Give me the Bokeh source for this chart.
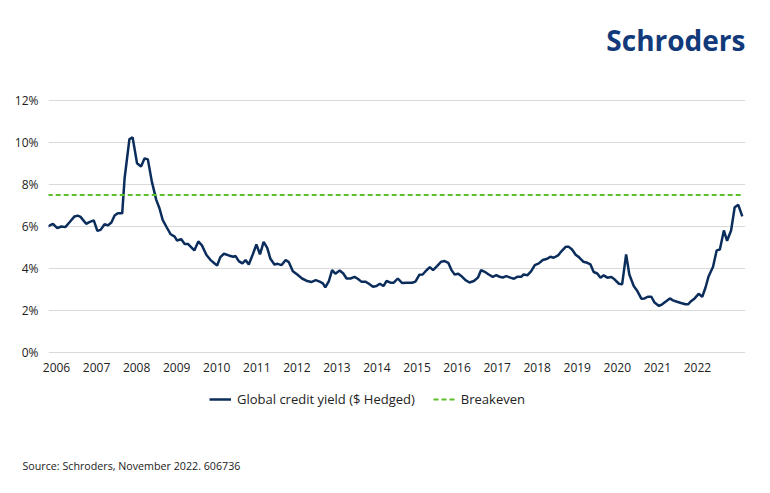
from bokeh.plotting import figure
from bokeh.layouts import column
from bokeh.models import FixedTicker, Legend, LegendItem, Label, Title, Range1d
from bokeh.embed import file_html
from bokeh.resources import INLINE

# ---- data (decimal year, yield %) ----
dates = [2005.78, 2005.91, 2006.02, 2006.12, 2006.22, 2006.32, 2006.45, 2006.53, 2006.60, 2006.74,
         2006.82, 2006.93, 2007.02, 2007.10, 2007.20, 2007.28, 2007.37, 2007.45, 2007.53, 2007.64,
         2007.70, 2007.82, 2007.90, 2008.01, 2008.11, 2008.20, 2008.28, 2008.38, 2008.49, 2008.57,
         2008.65, 2008.74, 2008.85, 2008.95, 2009.01, 2009.11, 2009.20, 2009.28, 2009.36, 2009.44,
         2009.54, 2009.63, 2009.74, 2009.84, 2009.94, 2010.01, 2010.09, 2010.18, 2010.30, 2010.41,
         2010.47, 2010.55, 2010.64, 2010.72, 2010.80, 2010.90, 2010.99, 2011.08, 2011.17, 2011.26,
         2011.34, 2011.44, 2011.52, 2011.62, 2011.72, 2011.80, 2011.90, 2012.01, 2012.13, 2012.26,
         2012.36, 2012.47, 2012.57, 2012.65, 2012.71, 2012.80, 2012.88, 2012.96, 2013.07, 2013.16,
         2013.24, 2013.34, 2013.44, 2013.52, 2013.61, 2013.71, 2013.80, 2013.90, 2013.99, 2014.07,
         2014.16, 2014.24, 2014.34, 2014.42, 2014.52, 2014.63, 2014.75, 2014.88, 2014.96, 2015.06,
         2015.14, 2015.23, 2015.32, 2015.40, 2015.50, 2015.60, 2015.69, 2015.78, 2015.86, 2015.94,
         2016.03, 2016.11, 2016.21, 2016.31, 2016.42, 2016.52, 2016.60, 2016.69, 2016.79, 2016.89,
         2016.98, 2017.06, 2017.14, 2017.23, 2017.33, 2017.42, 2017.50, 2017.60, 2017.66, 2017.76,
         2017.85, 2017.94, 2018.04, 2018.14, 2018.25, 2018.33, 2018.41, 2018.52, 2018.61, 2018.71,
         2018.79, 2018.87, 2018.96, 2019.04, 2019.15, 2019.25, 2019.33, 2019.41, 2019.50, 2019.58,
         2019.66, 2019.75, 2019.85, 2019.93, 2020.04, 2020.12, 2020.22, 2020.30, 2020.41, 2020.50,
         2020.60, 2020.68, 2020.76, 2020.85, 2020.93, 2021.04, 2021.12, 2021.22, 2021.31, 2021.39,
         2021.49, 2021.59, 2021.70, 2021.77, 2021.84, 2021.93, 2022.03, 2022.12, 2022.20, 2022.28,
         2022.39, 2022.48, 2022.56, 2022.66, 2022.74, 2022.84, 2022.93, 2023.02, 2023.12]

credit_yield = [6.00, 6.13, 5.92, 6.00, 5.97, 6.19, 6.48, 6.52, 6.46, 6.13,
                6.21, 6.29, 5.79, 5.84, 6.11, 6.05, 6.19, 6.52, 6.63, 6.63,
                8.30, 10.17, 10.25, 9.02, 8.86, 9.25, 9.20, 8.14, 7.27, 6.87,
                6.32, 6.00, 5.63, 5.52, 5.33, 5.40, 5.17, 5.17, 5.02, 4.86,
                5.29, 5.10, 4.65, 4.41, 4.25, 4.14, 4.54, 4.70, 4.62, 4.56,
                4.59, 4.35, 4.24, 4.40, 4.19, 4.67, 5.14, 4.67, 5.27, 4.98,
                4.46, 4.19, 4.22, 4.16, 4.40, 4.30, 3.87, 3.71, 3.52, 3.40,
                3.35, 3.44, 3.37, 3.29, 3.10, 3.40, 3.92, 3.75, 3.90, 3.76,
                3.52, 3.52, 3.60, 3.51, 3.37, 3.37, 3.27, 3.13, 3.16, 3.27,
                3.16, 3.40, 3.32, 3.32, 3.52, 3.30, 3.32, 3.32, 3.37, 3.70,
                3.71, 3.90, 4.06, 3.92, 4.11, 4.32, 4.35, 4.27, 3.92, 3.71,
                3.75, 3.63, 3.44, 3.33, 3.40, 3.56, 3.92, 3.84, 3.71, 3.60,
                3.68, 3.60, 3.57, 3.63, 3.56, 3.51, 3.60, 3.60, 3.71, 3.68,
                3.87, 4.16, 4.24, 4.40, 4.46, 4.56, 4.51, 4.62, 4.83, 5.03,
                5.03, 4.90, 4.65, 4.54, 4.32, 4.27, 4.19, 3.83, 3.76, 3.56,
                3.67, 3.56, 3.59, 3.48, 3.27, 3.24, 4.67, 3.71, 3.16, 2.92,
                2.56, 2.57, 2.65, 2.65, 2.37, 2.21, 2.29, 2.44, 2.57, 2.48,
                2.41, 2.35, 2.29, 2.29, 2.44, 2.57, 2.79, 2.65, 3.08, 3.63,
                4.08, 4.86, 4.90, 5.81, 5.32, 5.81, 6.92, 7.03, 6.48]

breakeven = 7.5
year_ticks = list(range(2006, 2023))
pct_ticks = [0, 2, 4, 6, 8, 10, 12]
pct_labels = ["0%", "2%", "4%", "6%", "8%", "10%", "12%"]
series_names = ["Global credit yield ($ Hedged)", "Breakeven"]

FONT = "Open Sans"
NAVY = "#0b2d5c"
GREEN = "#5cbf2a"
TXT = "#222222"
FW = 697          # frame width shared by all three figures
LB, RB = 48, 17   # left / right borders


def blank(frame_h, bottom=0):
    f = figure(frame_width=FW, frame_height=frame_h, x_range=Range1d(0, 1), y_range=Range1d(0, 1),
               x_axis_location=None, y_axis_location=None,
               min_border_left=LB, min_border_right=RB, min_border_top=0,
               min_border_bottom=bottom, output_backend="svg", toolbar_location=None)
    f.outline_line_color = None
    f.grid.grid_line_color = None
    f.border_fill_color = "white"
    return f


# ---- header with logo ----
head = blank(86)
head.add_layout(Label(x=FW, y=47, x_units="screen", y_units="screen", text="Schroders",
                      text_font=FONT, text_font_size="28px", text_font_style="bold",
                      text_color="#123a7a", text_align="right", text_baseline="middle"))

# ---- main chart ----
p = figure(frame_width=FW, frame_height=260,
           min_border_left=LB, min_border_right=RB, min_border_top=10, min_border_bottom=24,
           x_range=Range1d(2005.80, 2023.20), y_range=Range1d(-0.2, 12.2),
           output_backend="svg", toolbar_location=None)
p.outline_line_color = None
p.border_fill_color = "white"

p.line(dates, credit_yield, line_color=NAVY, line_width=2.5)
p.line([dates[0], dates[-1]], [breakeven, breakeven], line_color=GREEN,
       line_width=2, line_dash="5 3")

p.xaxis.ticker = FixedTicker(ticks=year_ticks)
p.yaxis.ticker = FixedTicker(ticks=pct_ticks)
p.yaxis.major_label_overrides = {t: l for t, l in zip(pct_ticks, pct_labels)}
for ax in (p.xaxis[0], p.yaxis[0]):
    ax.axis_line_color = None
    ax.major_tick_line_color = None
    ax.minor_tick_line_color = None
    ax.major_label_text_font = FONT
    ax.major_label_text_font_size = "12px"
    ax.major_label_text_color = TXT
p.xaxis.major_label_standoff = 0
p.yaxis.major_label_standoff = 4
p.xgrid.grid_line_color = None
p.ygrid.grid_line_color = "#d9d9d9"
p.ygrid.grid_line_width = 1

# ---- footer: legend + source ----
foot = blank(61)
nan = float("nan")
k1 = foot.line([nan], [nan], line_color=NAVY, line_width=2.5)
k2 = foot.line([nan], [nan], line_color=GREEN, line_width=2, line_dash="5 3")
legend = Legend(items=[LegendItem(label=series_names[0], renderers=[k1]),
                       LegendItem(label=series_names[1], renderers=[k2])],
                orientation="horizontal", location=(161, 33),
                glyph_width=22, glyph_height=16, label_standoff=6, spacing=18,
                padding=0, margin=0, border_line_color=None, background_fill_alpha=0,
                label_text_font=FONT, label_text_font_size="13px", label_text_color=TXT,
                label_height=16)
foot.add_layout(legend, "center")
foot.add_layout(Title(text="Source: Schroders, November 2022. 606736", align="left", offset=-26,
                      text_font=FONT, text_font_size="10.7px", text_color=TXT,
                      text_font_style="normal", standoff=30), "below")

layout = column(head, p, foot, spacing=0)
open("out.html", "w").write(file_html(layout, INLINE))
